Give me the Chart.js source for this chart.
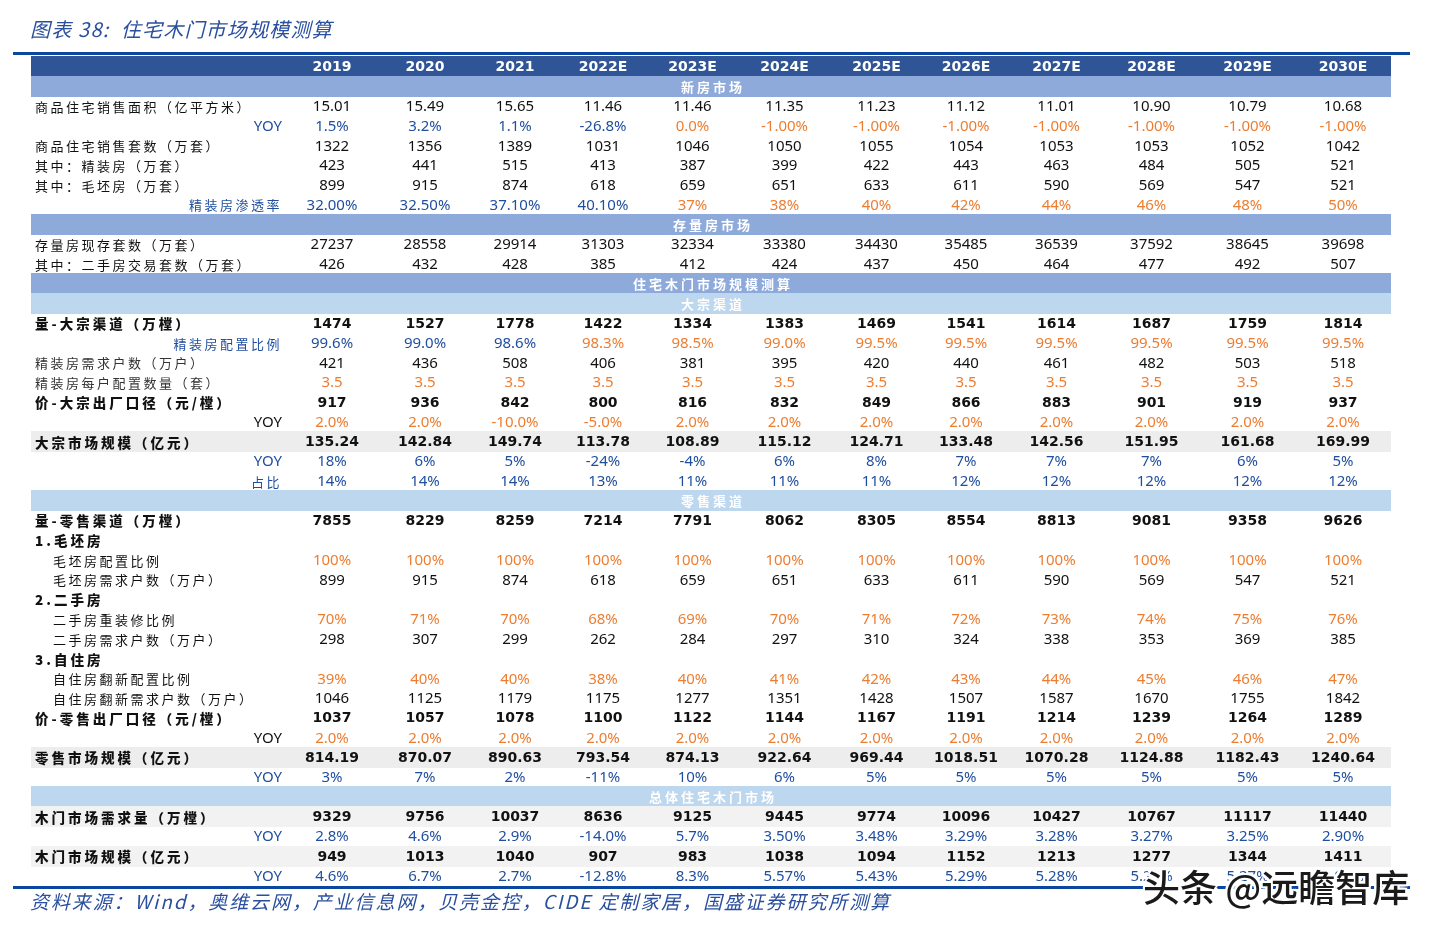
<!DOCTYPE html>
<html>
<head>
<meta charset="utf-8">
<title>住宅木门市场规模测算</title>
<script src="https://cdn.jsdelivr.net/npm/chart.js@4.4.0/dist/chart.umd.min.js"></script>
<style>
  body { margin: 0; background: #fff; }
  #wrap { position: relative; width: 1436px; height: 933px; }
  #title { position: absolute; left: 30px; top: 17px; font: italic 20px/24px "Noto Sans CJK SC"; color: #2a4f9f; letter-spacing: 1.2px; white-space: nowrap; }
  #source { position: absolute; left: 30px; top: 889px; font: italic 19px/24px "Noto Sans CJK SC"; color: #2a4f9f; letter-spacing: 1.9px; white-space: nowrap; }
  #mark { position: absolute; left: 1143px; top: 865px; font: 500 37px/42px "Noto Sans CJK SC"; color: #1a1a1a; white-space: nowrap;
          text-shadow: -2px 0 #fff, 2px 0 #fff, 0 -2px #fff, 0 2px #fff, -2px -2px #fff, 2px 2px #fff, -2px 2px #fff, 2px -2px #fff; }
</style>
</head>
<body>
<div id="wrap">
  <canvas id="tabela"></canvas>
  <div id="title">图表 38:&nbsp;&nbsp;住宅木门市场规模测算</div>
  <div id="source">资料来源：Wind，奥维云网，产业信息网，贝壳金控，CIDE 定制家居，国盛证券研究所测算</div>
  <div id="mark">头条 @远瞻智库</div>
</div>
<script>
// anos (colunas)
const years = ['2019', '2020', '2021', '2022E', '2023E', '2024E', '2025E', '2026E', '2027E', '2028E', '2029E', '2030E'];

// novo mercado
const salesArea = ['15.01', '15.49', '15.65', '11.46', '11.46', '11.35', '11.23', '11.12', '11.01', '10.90', '10.79', '10.68'];
const salesAreaYoy = ['1.5%', '3.2%', '1.1%', '-26.8%', '0.0%', '-1.00%', '-1.00%', '-1.00%', '-1.00%', '-1.00%', '-1.00%', '-1.00%'];
const salesUnits = ['1322', '1356', '1389', '1031', '1046', '1050', '1055', '1054', '1053', '1053', '1052', '1042'];
const finishedUnits = ['423', '441', '515', '413', '387', '399', '422', '443', '463', '484', '505', '521'];
const roughUnits = ['899', '915', '874', '618', '659', '651', '633', '611', '590', '569', '547', '521'];
const finishedRate = ['32.00%', '32.50%', '37.10%', '40.10%', '37%', '38%', '40%', '42%', '44%', '46%', '48%', '50%'];
// estoque
const stockUnits = ['27237', '28558', '29914', '31303', '32334', '33380', '34430', '35485', '36539', '37592', '38645', '39698'];
const resaleUnits = ['426', '432', '428', '385', '412', '424', '437', '450', '464', '477', '492', '507'];
// canal grande
const bulkVolume = ['1474', '1527', '1778', '1422', '1334', '1383', '1469', '1541', '1614', '1687', '1759', '1814'];
const bulkRatio = ['99.6%', '99.0%', '98.6%', '98.3%', '98.5%', '99.0%', '99.5%', '99.5%', '99.5%', '99.5%', '99.5%', '99.5%'];
const bulkHouseholds = ['421', '436', '508', '406', '381', '395', '420', '440', '461', '482', '503', '518'];
const doorsPerHousehold = ['3.5', '3.5', '3.5', '3.5', '3.5', '3.5', '3.5', '3.5', '3.5', '3.5', '3.5', '3.5'];
const bulkPrice = ['917', '936', '842', '800', '816', '832', '849', '866', '883', '901', '919', '937'];
const bulkPriceYoy = ['2.0%', '2.0%', '-10.0%', '-5.0%', '2.0%', '2.0%', '2.0%', '2.0%', '2.0%', '2.0%', '2.0%', '2.0%'];
const bulkMarket = ['135.24', '142.84', '149.74', '113.78', '108.89', '115.12', '124.71', '133.48', '142.56', '151.95', '161.68', '169.99'];
const bulkMarketYoy = ['18%', '6%', '5%', '-24%', '-4%', '6%', '8%', '7%', '7%', '7%', '6%', '5%'];
const bulkShare = ['14%', '14%', '14%', '13%', '11%', '11%', '11%', '12%', '12%', '12%', '12%', '12%'];
// varejo
const retailVolume = ['7855', '8229', '8259', '7214', '7791', '8062', '8305', '8554', '8813', '9081', '9358', '9626'];
const roughRatio = ['100%', '100%', '100%', '100%', '100%', '100%', '100%', '100%', '100%', '100%', '100%', '100%'];
const roughHouseholds = ['899', '915', '874', '618', '659', '651', '633', '611', '590', '569', '547', '521'];
const resaleRenoRatio = ['70%', '71%', '70%', '68%', '69%', '70%', '71%', '72%', '73%', '74%', '75%', '76%'];
const resaleHouseholds = ['298', '307', '299', '262', '284', '297', '310', '324', '338', '353', '369', '385'];
const ownRenoRatio = ['39%', '40%', '40%', '38%', '40%', '41%', '42%', '43%', '44%', '45%', '46%', '47%'];
const ownHouseholds = ['1046', '1125', '1179', '1175', '1277', '1351', '1428', '1507', '1587', '1670', '1755', '1842'];
const retailPrice = ['1037', '1057', '1078', '1100', '1122', '1144', '1167', '1191', '1214', '1239', '1264', '1289'];
const retailPriceYoy = ['2.0%', '2.0%', '2.0%', '2.0%', '2.0%', '2.0%', '2.0%', '2.0%', '2.0%', '2.0%', '2.0%', '2.0%'];
const retailMarket = ['814.19', '870.07', '890.63', '793.54', '874.13', '922.64', '969.44', '1018.51', '1070.28', '1124.88', '1182.43', '1240.64'];
const retailMarketYoy = ['3%', '7%', '2%', '-11%', '10%', '6%', '5%', '5%', '5%', '5%', '5%', '5%'];
// total
const doorDemand = ['9329', '9756', '10037', '8636', '9125', '9445', '9774', '10096', '10427', '10767', '11117', '11440'];
const doorDemandYoy = ['2.8%', '4.6%', '2.9%', '-14.0%', '5.7%', '3.50%', '3.48%', '3.29%', '3.28%', '3.27%', '3.25%', '2.90%'];
const doorMarket = ['949', '1013', '1040', '907', '983', '1038', '1094', '1152', '1213', '1277', '1344', '1411'];
const doorMarketYoy = ['4.6%', '6.7%', '2.7%', '-12.8%', '8.3%', '5.57%', '5.43%', '5.29%', '5.28%', '5.28%', '5.27%', '4.95%'];

// estilos
const AZUL = '#1f4e9f';
const LARANJA = '#ed7d31';
const PRETO = '#111';
const CAB = '#2f5597';
const FAIXA1 = '#8eaadb';
const FAIXA2 = '#bdd7ee';
const CINZA1 = '#ededed';
const CINZA2 = '#f2f2f2';
// larguras das colunas (coluna de rotulos + anos)
const colWidths = [254, 94, 92, 88, 88, 91, 93, 91, 88, 93, 97, 95, 96];
const bandTextX = 680;

const rows = [
  { type: 'header' },
  { type: 'band', text: '新房市场', fill: FAIXA1 },
  { label: '商品住宅销售面积（亿平方米）', vals: salesArea },
  { label: 'YOY', align: 'right', labelColor: AZUL, vals: salesAreaYoy, color: AZUL, orangeFrom: 4 },
  { label: '商品住宅销售套数（万套）', vals: salesUnits },
  { label: '其中：精装房（万套）', vals: finishedUnits },
  { label: '其中：毛坯房（万套）', vals: roughUnits },
  { label: '精装房渗透率', align: 'right', labelColor: AZUL, vals: finishedRate, color: AZUL, orangeFrom: 4 },
  { type: 'band', text: '存量房市场', fill: FAIXA1 },
  { label: '存量房现存套数（万套）', vals: stockUnits },
  { label: '其中：二手房交易套数（万套）', vals: resaleUnits },
  { type: 'band', text: '住宅木门市场规模测算', fill: FAIXA1 },
  { type: 'band', text: '大宗渠道', fill: FAIXA2 },
  { label: '量-大宗渠道（万樘）', bold: true, vals: bulkVolume },
  { label: '精装房配置比例', align: 'right', labelColor: AZUL, vals: bulkRatio, color: AZUL, orangeFrom: 3 },
  { label: '精装房需求户数（万户）', labelColor: '#333', vals: bulkHouseholds },
  { label: '精装房每户配置数量（套）', labelColor: '#333', vals: doorsPerHousehold, color: LARANJA },
  { label: '价-大宗出厂口径（元/樘）', bold: true, vals: bulkPrice },
  { label: 'YOY', align: 'right', vals: bulkPriceYoy, color: LARANJA },
  { label: '大宗市场规模（亿元）', bold: true, fill: CINZA1, vals: bulkMarket },
  { label: 'YOY', align: 'right', labelColor: AZUL, vals: bulkMarketYoy, color: AZUL },
  { label: '占比', align: 'right', labelColor: AZUL, vals: bulkShare, color: AZUL },
  { type: 'band', text: '零售渠道', fill: FAIXA2 },
  { label: '量-零售渠道（万樘）', bold: true, vals: retailVolume },
  { label: '1.毛坯房', bold: true },
  { label: '毛坯房配置比例', indent: true, vals: roughRatio, color: LARANJA },
  { label: '毛坯房需求户数（万户）', indent: true, vals: roughHouseholds },
  { label: '2.二手房', bold: true },
  { label: '二手房重装修比例', indent: true, vals: resaleRenoRatio, color: LARANJA },
  { label: '二手房需求户数（万户）', indent: true, vals: resaleHouseholds },
  { label: '3.自住房', bold: true },
  { label: '自住房翻新配置比例', indent: true, vals: ownRenoRatio, color: LARANJA },
  { label: '自住房翻新需求户数（万户）', indent: true, vals: ownHouseholds },
  { label: '价-零售出厂口径（元/樘）', bold: true, vals: retailPrice },
  { label: 'YOY', align: 'right', vals: retailPriceYoy, color: LARANJA },
  { label: '零售市场规模（亿元）', bold: true, fill: CINZA1, vals: retailMarket },
  { label: 'YOY', align: 'right', labelColor: AZUL, vals: retailMarketYoy, color: AZUL },
  { type: 'band', text: '总体住宅木门市场', fill: FAIXA2 },
  { label: '木门市场需求量（万樘）', bold: true, fill: CINZA2, vals: doorDemand },
  { label: 'YOY', align: 'right', labelColor: AZUL, vals: doorDemandYoy, color: AZUL },
  { label: '木门市场规模（亿元）', bold: true, fill: CINZA2, vals: doorMarket },
  { label: 'YOY', align: 'right', labelColor: AZUL, vals: doorMarketYoy, color: AZUL },
];

// inicio de cada coluna em unidades da tabela
const colStart = [];
colWidths.reduce((acc, w, i) => { colStart[i] = acc; return acc + w; }, 0);
const tableWidth = colWidths.reduce((a, b) => a + b, 0);

const CJK = '"Noto Sans CJK SC"';
const NUM = '"Noto Sans"';
const NUMB = '"DejaVu Sans"';

function tableText(ctx, txt, px, py, font, color, align, spacing) {
  ctx.font = font;
  ctx.fillStyle = color;
  ctx.textAlign = align;
  ctx.textBaseline = 'middle';
  ctx.letterSpacing = spacing || '0px';
  ctx.fillText(txt, px, py);
  ctx.letterSpacing = '0px';
}

const tablePlugin = {
  id: 'tabela',
  beforeDraw(chart) {
    const { ctx, chartArea: a, scales: { y } } = chart;
    const rowH = y.getPixelForValue(1) - y.getPixelForValue(0);
    ctx.save();
    rows.forEach((r, i) => {
      const fill = r.type === 'header' ? CAB : r.fill;
      if (!fill) return;
      const top = y.getPixelForValue(i) - rowH / 2;
      ctx.fillStyle = fill;
      ctx.fillRect(a.left, Math.round(top), a.right - a.left, Math.round(rowH) + 1);
    });
    // linhas azuis de cima e de baixo
    ctx.fillStyle = '#0b47a1';
    ctx.fillRect(13, a.top - 4, 1397, 3);
    ctx.fillRect(13, a.bottom + 1, 1397, 3);
    ctx.restore();
  },
  afterDraw(chart) {
    const { ctx, chartArea: a, scales: { x, y } } = chart;
    const colX = (j) => x.getPixelForValue(colStart[j + 1] + colWidths[j + 1] / 2);
    ctx.save();
    rows.forEach((r, i) => {
      const cy = y.getPixelForValue(i) + 1.5;
      if (r.type === 'header') {
        years.forEach((yr, j) => tableText(ctx, yr, colX(j), cy, 'bold 14px ' + NUMB, '#fff', 'center'));
        return;
      }
      if (r.type === 'band') {
        tableText(ctx, r.text, x.getPixelForValue(bandTextX) + 2, cy - 0.5, 'bold 13px ' + CJK, '#fff', 'center', '3px');
        return;
      }
      // rotulo
      let lx = a.left + 4, align = 'left';
      if (r.align === 'right') { lx = x.getPixelForValue(colWidths[0]) - 3; align = 'right'; }
      if (r.indent) lx = a.left + 22;
      const isLatin = /^[A-Z]+$/.test(r.label);
      const font = isLatin ? '15px ' + NUM : (r.bold ? '900 13.5px ' : '13px ') + CJK;
      tableText(ctx, r.label, lx, cy, font, r.labelColor || PRETO, align, isLatin ? '0px' : (r.bold ? '3px' : '2.5px'));
      if (!r.vals) return;
      r.vals.forEach((v, j) => {
        let c = r.color || PRETO;
        if (r.orangeFrom !== undefined && j >= r.orangeFrom) c = LARANJA;
        tableText(ctx, v, colX(j), cy, r.bold ? 'bold 14px ' + NUMB : '15px ' + NUM, c, 'center');
      });
    });
    ctx.restore();
  },
};

const cv = document.getElementById('tabela');
cv.width = 1436; cv.height = 933;

tabela = new Chart(cv, {
  type: 'scatter',
  data: { datasets: [] },
  options: {
    responsive: false,
    animation: false,
    layout: { padding: { left: 31, right: 45, top: 56, bottom: 48 } },
    plugins: { legend: { display: false }, tooltip: { enabled: false } },
    scales: {
      x: { type: 'linear', min: 0, max: tableWidth, display: false },
      y: { type: 'category', labels: rows.map((r, i) => 'r' + i), offset: true, display: false },
    },
  },
  plugins: [tablePlugin],
});
</script>
</body>
</html>
